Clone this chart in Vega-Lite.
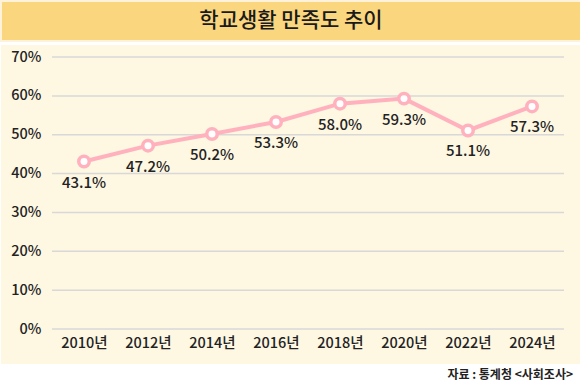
{
  "$schema": "https://vega.github.io/schema/vega-lite/v6.json",
  "padding": 0,
  "background": "#ffffff",
  "spacing": 3,
  "config": {
    "font": "Noto Sans CJK KR",
    "view": {"stroke": null}
  },
  "datasets": {
    "survey": [
      {"year": 2010, "rate": 0.431},
      {"year": 2012, "rate": 0.472},
      {"year": 2014, "rate": 0.502},
      {"year": 2016, "rate": 0.533},
      {"year": 2018, "rate": 0.580},
      {"year": 2020, "rate": 0.593},
      {"year": 2022, "rate": 0.511},
      {"year": 2024, "rate": 0.573}
    ],
    "grid": [
      {"g": 0}, {"g": 0.1}, {"g": 0.2}, {"g": 0.3}, {"g": 0.4}, {"g": 0.5}, {"g": 0.6}, {"g": 0.7}
    ],
    "heading": [{"t": "학교생활 만족도 추이"}]
  },
  "vconcat": [
    {
      "width": 580,
      "height": 40,
      "view": {"fill": "#FAD67F", "stroke": "#FEF3DA", "strokeWidth": 2},
      "data": {"name": "heading"},
      "mark": {"type": "text", "fontSize": 21, "fontWeight": 500, "color": "#1a1a1a", "baseline": "middle", "align": "center"},
      "encoding": {"text": {"field": "t"}}
    },
    {
      "width": 580,
      "height": 319,
      "view": {"fill": "#FEF7E2", "stroke": null},
      "title": {
        "text": "자료 : 통계청 <사회조사>",
        "orient": "bottom",
        "anchor": "end",
        "frame": "group",
        "fontSize": 12,
        "fontWeight": "bold",
        "color": "#222222",
        "offset": 6,
        "dx": -8
      },
      "layer": [
        {
          "data": {"name": "grid"},
          "mark": {"type": "rule", "color": "#D8D8D8", "strokeWidth": 1.5},
          "encoding": {
            "y": {"field": "g", "type": "quantitative"},
            "x": {"datum": 2009, "type": "quantitative"},
            "x2": {"datum": 2025}
          }
        },
        {
          "data": {"name": "survey"},
          "mark": {"type": "line", "color": "#FFB1BE", "strokeWidth": 4},
          "encoding": {
            "x": {
              "field": "year", "type": "quantitative",
              "scale": {"domain": [2007.406, 2025.531], "nice": false, "zero": false},
              "axis": {
                "title": null, "values": [2010, 2012, 2014, 2016, 2018, 2020, 2022, 2024],
                "labelExpr": "datum.value + '년'", "domain": false, "ticks": false, "tickSize": 0,
                "grid": false, "offset": -33, "labelPadding": 5, "labelFontSize": 14.5,
                "labelFontWeight": 500, "labelColor": "#222222", "labelFlush": false
              }
            },
            "y": {
              "field": "rate", "type": "quantitative",
              "scale": {"domain": [-0.09, 0.731], "nice": false, "zero": false},
              "axis": {
                "title": null, "values": [0, 0.1, 0.2, 0.3, 0.4, 0.5, 0.6, 0.7],
                "format": ".0%", "domain": false, "ticks": false, "tickSize": 0,
                "grid": false, "offset": -46, "labelPadding": 6, "labelFontSize": 14.5,
                "labelFontWeight": 500, "labelColor": "#222222", "labelFlush": false
              }
            }
          }
        },
        {
          "data": {"name": "survey"},
          "mark": {"type": "point", "filled": true, "fill": "#ffffff", "stroke": "#FFB1BE", "strokeWidth": 3.5, "size": 110, "opacity": 1},
          "encoding": {
            "x": {"field": "year", "type": "quantitative"},
            "y": {"field": "rate", "type": "quantitative"}
          }
        },
        {
          "data": {"name": "survey"},
          "mark": {"type": "text", "fontSize": 15, "fontWeight": 500, "color": "#222222", "dy": 21, "baseline": "middle"},
          "encoding": {
            "x": {"field": "year", "type": "quantitative"},
            "y": {"field": "rate", "type": "quantitative"},
            "text": {"field": "rate", "type": "quantitative", "format": ".1%"}
          }
        }
      ]
    }
  ]
}
